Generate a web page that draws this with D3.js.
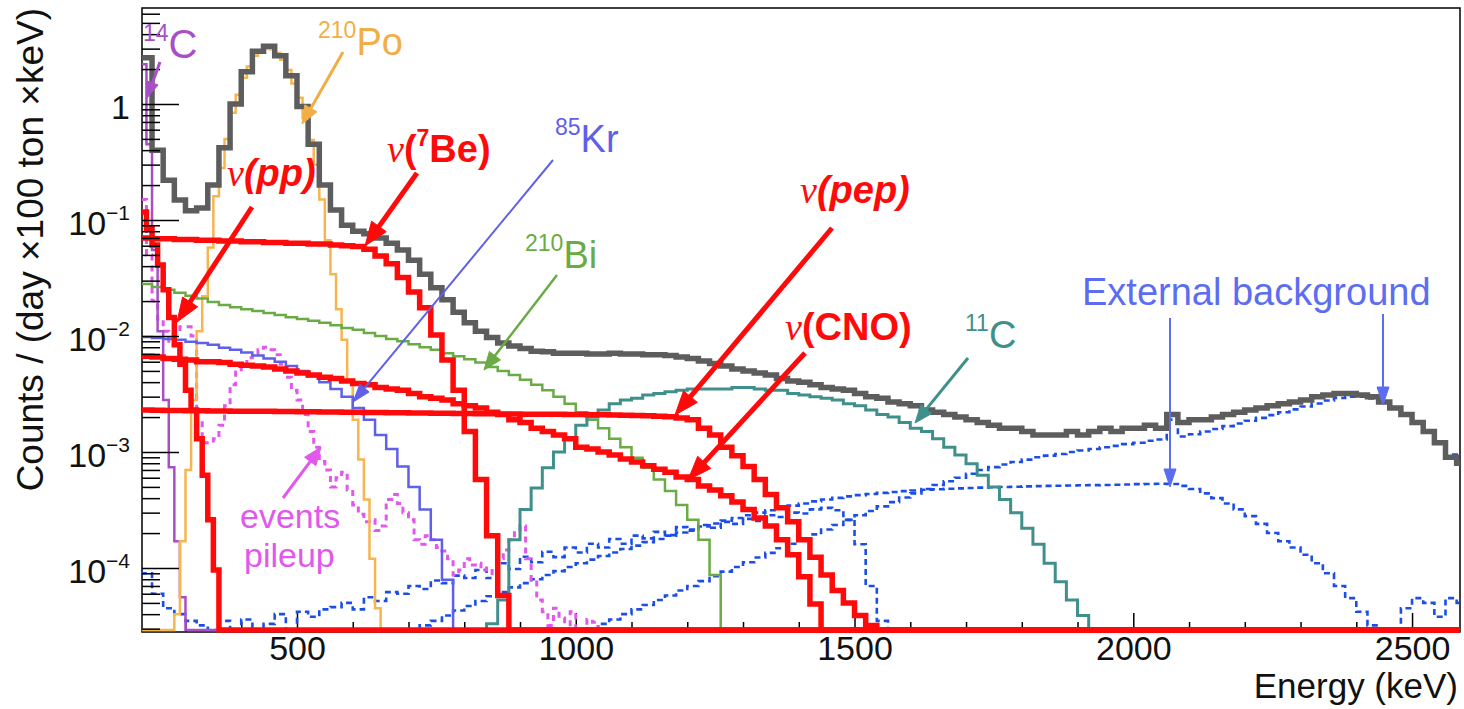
<!DOCTYPE html>
<html><head><meta charset="utf-8">
<script src="https://cdn.jsdelivr.net/npm/d3@7/dist/d3.min.js"></script>
<style>
html,body{margin:0;padding:0;background:#fff;}
svg{display:block;}
text{font-family:"Liberation Sans",Arial,Helvetica,sans-serif;}
</style></head><body>
<svg id="chart" width="1464" height="709"></svg>
<script>
// ---------------- DATA (counts / (day x 100 ton x keV)) ----------------
const totalStart = 220, totalWidth = 20;
const totalCounts = [
2.5, 0.40, 0.22, 0.149, 0.12, 0.127, 0.2, 0.42, 1.0, 1.9,
2.85, 3.15, 2.6, 1.75, 0.95, 0.45, 0.2, 0.122, 0.09, 0.08,
0.076, 0.07, 0.063, 0.055, 0.045, 0.034, 0.026, 0.0205, 0.016, 0.013,
0.011, 0.0097, 0.0087, 0.0082, 0.0078, 0.0074, 0.0073, 0.0071, 0.0071, 0.0071,
0.007, 0.007, 0.0071, 0.007, 0.007, 0.0069, 0.0069, 0.0068, 0.0066, 0.0064,
0.0061, 0.0058, 0.0055, 0.0052, 0.005, 0.0048, 0.0046, 0.0043, 0.0041, 0.004,
0.0038, 0.0036, 0.0035, 0.0034, 0.0032, 0.003, 0.0029, 0.0027, 0.0026, 0.0025,
0.0023, 0.0022, 0.0021, 0.002, 0.0019, 0.0018, 0.0017, 0.0016, 0.0016, 0.0015,
0.0014, 0.0014, 0.0014, 0.0015, 0.0014, 0.0015, 0.0016, 0.0015, 0.0016, 0.0016,
0.0017, 0.0016, 0.0021, 0.0018, 0.0019, 0.0019, 0.002, 0.0021, 0.0022, 0.0023,
0.0024, 0.0025, 0.0026, 0.0027, 0.0028, 0.003, 0.0031, 0.0032, 0.0032, 0.0031,
0.003, 0.0027, 0.0024, 0.0021, 0.0018, 0.0015, 0.0012, 0.0009, 0.0008];

const c14Start = 220, c14Width = 10;
const c14Counts = [2.2, 0.45, 0.055, 0.011, 0.0028, 7.4e-4, 1.7e-4, 5.6e-5];

const po210Start = 220, po210Width = 10;
const po210Counts = [0, 0, 0, 0, 0, 0, 4e-5, 1.7e-4, 7e-4, 0.0028,
0.011, 0.022, 0.058, 0.16, 0.28, 0.5, 0.84, 1.2, 1.68, 2.1,
2.6, 2.9, 3.0, 2.97, 2.75, 2.4, 1.96, 1.5, 1.13, 0.76,
0.49, 0.3, 0.15, 0.067, 0.034, 0.017, 0.0093, 0.0042, 0.0019, 8.6e-4,
3.9e-4, 1.2e-4, 4.5e-5];

const ppStart = 220, ppWidth = 10;
const ppCounts = [0.117, 0.085, 0.061, 0.041, 0.025, 0.0144, 0.0084, 0.0057, 0.0034, 0.0023,
0.0013, 6.3e-4, 2.6e-4, 9.6e-5];

const be7Start = 220, be7Width = 20;
const be7Counts = [0.070, 0.069, 0.069, 0.068, 0.068, 0.067, 0.067, 0.066, 0.066, 0.065,
0.065, 0.064, 0.064, 0.063, 0.063, 0.062, 0.062, 0.061, 0.06, 0.059,
0.056, 0.049, 0.042, 0.032, 0.024, 0.0175, 0.0102, 0.0062, 0.0034, 0.0015,
5.8e-4, 1.9e-4, 5.8e-5];

const kr85Start = 220, kr85Width = 20;
const kr85Counts = [0.0098, 0.0096, 0.0094, 0.0093, 0.0089, 0.0087, 0.0084, 0.0079, 0.0076, 0.0072,
0.0068, 0.0064, 0.006, 0.0055, 0.005, 0.0045, 0.004, 0.0035, 0.003, 0.0024,
0.0019, 0.0014, 0.00106, 7.5e-4, 5e-4, 3.2e-4, 1.75e-4, 7.9e-5];

const bi210Start = 220, bi210Width = 20;
const bi210Counts = [0.028, 0.0264, 0.025, 0.0236, 0.0222, 0.021, 0.0196, 0.0185, 0.0177, 0.017,
0.0164, 0.0158, 0.0152, 0.0145, 0.014, 0.0135, 0.013, 0.0124, 0.0117, 0.0113,
0.0106, 0.01, 0.0094, 0.009, 0.0085, 0.008, 0.0076, 0.0071, 0.0067, 0.0063,
0.0059, 0.0054, 0.005, 0.0046, 0.0042, 0.0038, 0.0034, 0.003, 0.0026, 0.0022,
0.0019, 0.0016, 0.0013, 0.0011, 8.9e-4, 7.3e-4, 5.8e-4, 4.6e-4, 3.5e-4, 2.6e-4,
1.75e-4, 8.7e-5];

const cnoStart = 220, cnoWidth = 20;
const cnoCounts = [0.0067, 0.0066, 0.0064, 0.0063, 0.0062, 0.006, 0.006, 0.0059, 0.0057, 0.0056,
0.0055, 0.0054, 0.0052, 0.005, 0.0048, 0.0046, 0.0044, 0.0043, 0.0041, 0.0039,
0.0038, 0.0036, 0.0035, 0.0034, 0.0032, 0.003, 0.0029, 0.0028, 0.0026, 0.0025,
0.0024, 0.0022, 0.0021, 0.0019, 0.0018, 0.0016, 0.0015, 0.0014, 0.0013, 0.0011,
0.00106, 0.001, 9.4e-4, 8.7e-4, 8.2e-4, 7.6e-4, 7.1e-4, 6.7e-4, 6.1e-4, 5.8e-4,
5.1e-4, 4.7e-4, 4.2e-4, 3.7e-4, 3.2e-4, 2.7e-4, 2.3e-4, 1.75e-4, 1.3e-4, 8.4e-5,
4.9e-5];

const pepStart = 220, pepWidth = 20;
const pepCounts = [0.00230, 0.00229, 0.00228, 0.00228, 0.00227, 0.00227, 0.00226, 0.00226, 0.00225, 0.00225,
0.00224, 0.00224, 0.00223, 0.00223, 0.00222, 0.00222, 0.00221, 0.00221, 0.00220, 0.00220,
0.00219, 0.00219, 0.00218, 0.00218, 0.00217, 0.00217, 0.00216, 0.00216, 0.00215, 0.00215,
0.00214, 0.00214, 0.00213, 0.00213, 0.00212, 0.00212, 0.00211, 0.00211, 0.00210, 0.00210,
0.00209, 0.00209, 0.00208, 0.00207, 0.00206, 0.00205, 0.00203, 0.00201, 0.00196, 0.0019,
0.0016, 0.0014, 0.0011, 9.3e-4, 7.5e-4, 5.8e-4, 4.3e-4, 3.3e-4, 2.5e-4, 1.75e-4,
1.24e-4, 8.7e-5, 6.4e-5, 5e-5, 3.9e-5, 3.2e-5];

const c11Start = 840, c11Width = 20;
const c11Counts = [3.3e-5, 5.3e-5, 1.75e-4, 3.2e-4, 4.9e-4, 7.3e-4, 0.001, 0.0013, 0.0017, 0.002,
0.0023, 0.0026, 0.0028, 0.0029, 0.0031, 0.0032, 0.0033, 0.0034, 0.0035, 0.0035,
0.0035, 0.0035, 0.0036, 0.0036, 0.0035, 0.0034, 0.0034, 0.0032, 0.0031, 0.003,
0.0029, 0.0028, 0.0026, 0.0025, 0.0023, 0.0021, 0.002, 0.0018, 0.0016, 0.0015,
0.0013, 0.0011, 9.4e-4, 7.9e-4, 6.3e-4, 5e-4, 3.9e-4, 3e-4, 2.2e-4, 1.6e-4,
1.1e-4, 7.6e-5, 5.3e-5, 3.9e-5, 3e-5];

const pileupStart = 220, pileupWidth = 10;
const pileupCounts = [0.15, 0.05, 0.02, 0.014, 0.011, 0.0084, 0.011, 0.012, 0.012, 0.01,
0.0019, 0.0012, 0.0012, 0.0013, 0.0017, 0.0025, 0.0038, 0.0049, 0.0057, 0.0065,
0.007, 0.0076, 0.008, 0.0076, 0.0069, 0.0057, 0.0044, 0.0034, 0.0028, 0.0021,
0.0015, 0.0011, 8.3e-4, 7e-4, 5e-4, 6e-4, 6.7e-4, 4.7e-4, 3.5e-4, 2.9e-4,
2.5e-4, 2.6e-4, 2.1e-4, 2.3e-4, 3.9e-4, 4.3e-4, 3.6e-4, 3e-4, 2.6e-4, 1.75e-4,
1.6e-4, 1.9e-4, 1.75e-4, 1.5e-4, 1.4e-4, 1.2e-4, 8.7e-5, 9.6e-5, 1.2e-4, 1.06e-4,
1.1e-4, 9.6e-5, 1e-4, 8.7e-5, 1.2e-4, 1.43e-4, 1.75e-4, 2.1e-4, 2.3e-4, 1.2e-4,
7.9e-5, 5.3e-5, 4.2e-5, 3.2e-5, 4.5e-5, 3.7e-5, 0, 4.2e-5, 0, 0,
3.6e-5, 3.4e-5, 2.9e-5, 0, 0, 0, 0, 0, 0, 0, 3e-5];

// external background components
const extK40Start = 220, extK40Width = 20;
const extK40Counts = [9e-5, 6e-5, 4.5e-5, 4e-5, 3.5e-5, 3.2e-5, 0, 3.5e-5, 0, 3.6e-5,
0, 3.3e-5, 4e-5, 0, 4.2e-5, 3.8e-5, 4.4e-5, 4.6e-5, 5e-5, 4.4e-5,
5.6e-5, 5.2e-5, 6.2e-5, 6e-5, 7e-5, 6.6e-5, 7.8e-5, 7.4e-5, 8.6e-5, 8.2e-5,
9.6e-5, 8.2e-5, 1.1e-4, 9.8e-5, 1.25e-4, 1.12e-4, 1.38e-4, 1.24e-4, 1.5e-4, 1.36e-4,
1.62e-4, 1.5e-4, 1.78e-4, 1.62e-4, 1.9e-4, 1.8e-4, 2.05e-4, 1.92e-4, 2.25e-4, 2.1e-4,
2.35e-4, 2.22e-4, 2.5e-4, 2.4e-4, 2.65e-4, 2.55e-4, 2.85e-4, 2.75e-4, 3e-4, 2.95e-4,
3.2e-4, 3.3e-4, 3.15e-4, 2.6e-4, 1.6e-4, 7e-5, 3.5e-5];

const extBi214Start = 720, extBi214Width = 20;
const extBi214Counts = [3.2e-5, 3.5e-5, 3.9e-5, 4.3e-5, 4.7e-5, 5.2e-5, 5.7e-5, 6.2e-5, 6.8e-5, 7.4e-5,
8e-5, 8.7e-5, 9.4e-5, 1.02e-4, 1.1e-4, 1.18e-4, 1.27e-4, 1.36e-4, 1.46e-4, 1.56e-4,
1.67e-4, 1.78e-4, 1.9e-4, 2.02e-4, 2.15e-4, 2.28e-4, 2.42e-4, 2.56e-4, 2.7e-4, 2.85e-4,
3e-4, 3.15e-4, 3.3e-4, 3.45e-4, 3.6e-4, 3.75e-4, 3.9e-4, 4.02e-4, 4.14e-4, 4.25e-4,
4.35e-4, 4.44e-4, 4.52e-4, 4.6e-4, 4.66e-4, 4.72e-4, 4.77e-4, 4.82e-4, 4.86e-4, 4.9e-4,
4.93e-4, 4.96e-4, 4.99e-4, 5.02e-4, 5.05e-4, 5.08e-4, 5.1e-4, 5.12e-4, 5.14e-4, 5.16e-4,
5.18e-4, 5.2e-4, 5.22e-4, 5.25e-4, 5.28e-4, 5.3e-4, 5.32e-4,
5.3e-4, 5.1e-4, 4.8e-4, 4.4e-4, 4e-4, 3.6e-4, 3.2e-4, 2.8e-4, 2.4e-4, 2e-4,
1.7e-4, 1.5e-4, 1.3e-4, 1.1e-4, 9e-5, 7e-5, 5.5e-5, 4.2e-5, 3.2e-5, 0,
0, 4.5e-5, 5.5e-5, 5e-5, 3.8e-5, 5.5e-5, 5e-5];

const extTl208Start = 1020, extTl208Width = 20;
const extTl208Counts = [3e-5, 3.3e-5, 3.6e-5, 4e-5, 4.4e-5, 4.8e-5, 5.3e-5, 5.8e-5, 6.4e-5, 7e-5,
7.7e-5, 8.5e-5, 9.3e-5, 1.02e-4, 1.12e-4, 1.23e-4, 1.35e-4, 1.48e-4, 1.62e-4, 1.78e-4,
1.95e-4, 2.15e-4, 2.35e-4, 2.6e-4, 2.85e-4, 3.1e-4, 3.4e-4, 3.7e-4, 4.05e-4, 4.4e-4,
4.8e-4, 5.2e-4, 5.6e-4, 6e-4, 6.5e-4, 7e-4, 7.4e-4, 7.8e-4, 8.2e-4, 8.6e-4,
9e-4, 9.3e-4, 9.6e-4, 1e-3, 1.03e-3, 1.06e-3, 1.1e-3, 1.13e-3, 1.17e-3, 1.2e-3,
1.25e-3, 1.28e-3, 1.9e-3, 1.36e-3, 1.42e-3, 1.5e-3, 1.58e-3, 1.67e-3, 1.76e-3, 1.86e-3,
1.97e-3, 2.08e-3, 2.2e-3, 2.33e-3, 2.47e-3, 2.62e-3, 2.78e-3, 2.92e-3, 3e-3, 3e-3,
2.9e-3, 2.7e-3, 2.4e-3, 2.1e-3, 1.8e-3, 1.5e-3, 1.2e-3, 9.5e-4, 7.8e-4];

// axis tick labels
const xMajorTicks = [500, 1000, 1500, 2000, 2500];
const yMajorTicks = [1, 1e-1, 1e-2, 1e-3, 1e-4];
const yMajorLabels = [{base: "1", exp: ""}, {base: "10", exp: "\u22121"}, {base: "10", exp: "\u22122"},
                      {base: "10", exp: "\u22123"}, {base: "10", exp: "\u22124"}];
const xTitle = "Energy (keV)";
const yTitle = "Counts / (day \u00d7100 ton \u00d7keV)";

// ---------------- DRAWING ----------------
const svg = d3.select('#chart');
const plot = {left: 142, top: 8, right: 1460, bottom: 632};
const x = d3.scaleLinear().domain([222, 2586]).range([plot.left, plot.right]);
const y = d3.scaleLog().domain([2.807e-5, 6.72]).range([plot.bottom, plot.top]);
const FLOOR_Y = plot.bottom - 2;
const yOf = v => (v > y.domain()[0] ? y(v) : FLOOR_Y);

const RED = '#ff0a0a';
const EXT = '#1c4ee6';
const series = [
  {values: extK40Counts, start: extK40Start, width: extK40Width, color: EXT, lw: 2.6, dash: '6,4'},
  {values: extBi214Counts, start: extBi214Start, width: extBi214Width, color: EXT, lw: 2.6, dash: '6,4'},
  {values: extTl208Counts, start: extTl208Start, width: extTl208Width, color: EXT, lw: 2.6, dash: '6,4'},
  {values: pileupCounts, start: pileupStart, width: pileupWidth, color: '#e158ec', lw: 3, dash: '6,5'},
  {values: c14Counts, start: c14Start, width: c14Width, color: '#a84fc8', lw: 2.5},
  {values: po210Counts, start: po210Start, width: po210Width, color: '#f6b54f', lw: 2.5},
  {values: kr85Counts, start: kr85Start, width: kr85Width, color: '#5f5fe8', lw: 2.5},
  {values: bi210Counts, start: bi210Start, width: bi210Width, color: '#6aab45', lw: 2.5},
  {values: c11Counts, start: c11Start, width: c11Width, color: '#3f8f8a', lw: 3},
  {values: totalCounts, start: totalStart, width: totalWidth, color: '#5d5d5d', lw: 5.5},
  {values: cnoCounts, start: cnoStart, width: cnoWidth, color: RED, lw: 5.5},
  {values: pepCounts, start: pepStart, width: pepWidth, color: RED, lw: 5.5},
  {values: be7Counts, start: be7Start, width: be7Width, color: RED, lw: 5.5},
  {values: ppCounts, start: ppStart, width: ppWidth, color: RED, lw: 5.5}
];

svg.append('defs').append('clipPath').attr('id', 'clip')
  .append('rect').attr('x', plot.left).attr('y', plot.top)
  .attr('width', plot.right - plot.left).attr('height', plot.bottom - plot.top + 4);

// frame
svg.append('rect').attr('x', plot.left).attr('y', plot.top)
  .attr('width', plot.right - plot.left).attr('height', plot.bottom - plot.top)
  .attr('fill', 'none').attr('stroke', '#000').attr('stroke-width', 1.5);

// x axis ticks (inside) + labels
const gx = svg.append('g').attr('transform', `translate(0,${plot.bottom})`);
gx.call(d3.axisBottom(x).tickValues(xMajorTicks).tickSizeInner(-19).tickSizeOuter(0).tickPadding(4).tickFormat(d3.format('d')));
const xMinor = d3.range(300, 2600, 100).filter(v => v % 500 !== 0);
const gxm = svg.append('g').attr('transform', `translate(0,${plot.bottom})`);
gxm.call(d3.axisBottom(x).tickValues(xMinor).tickSizeInner(-10).tickSizeOuter(0).tickFormat(''));
[gx, gxm].forEach(g => {
  g.select('.domain').remove();
  g.selectAll('line').attr('stroke', '#000').attr('stroke-width', 1.5);
});
gx.selectAll('text').attr('font-size', 34).attr('fill', '#111')
  .attr('font-family', '"Liberation Sans",Arial,sans-serif');

// histograms
const stepLine = d3.line().x(d => x(d.e)).y(d => yOf(d.v)).curve(d3.curveStepAfter);
function histPoints(h) {
  const pts = [];
  if (h.start > x.domain()[0]) pts.push({e: h.start, v: 0});
  h.values.forEach((v, i) => pts.push({e: h.start + i * h.width, v: v}));
  pts.push({e: h.start + h.values.length * h.width, v: 0});
  pts.push({e: 2600, v: 0});
  return pts;
}
const gh = svg.append('g').attr('clip-path', 'url(#clip)');
series.forEach(h => {
  gh.append('path').attr('d', stepLine(histPoints(h)))
    .attr('fill', 'none').attr('stroke', h.color).attr('stroke-width', h.lw)
    .attr('stroke-dasharray', h.dash || null).attr('stroke-linejoin', 'miter');
});

// y axis ticks (inside)
const gy = svg.append('g').attr('transform', `translate(${plot.left},0)`);
gy.call(d3.axisLeft(y).tickValues(yMajorTicks).tickSizeInner(-37).tickSizeOuter(0).tickFormat(''));
const yMinor = [];
[-5, -4, -3, -2, -1, 0].forEach(p => [2, 3, 4, 5, 6, 7, 8, 9].forEach(m => {
  const v = m * Math.pow(10, p);
  if (v > y.domain()[0] && v < y.domain()[1]) yMinor.push(v);
}));
const gym = svg.append('g').attr('transform', `translate(${plot.left},0)`);
gym.call(d3.axisLeft(y).tickValues(yMinor).tickSizeInner(-18).tickSizeOuter(0).tickFormat(''));
[gy, gym].forEach(g => {
  g.select('.domain').remove();
  g.selectAll('line').attr('stroke', '#000').attr('stroke-width', 1.5);
});
// y labels with superscripts
yMajorTicks.forEach((v, i) => {
  const lab = yMajorLabels[i];
  const t = svg.append('text').attr('x', 130).attr('y', y(v) + 15)
    .attr('text-anchor', 'end').attr('font-size', 34).attr('fill', '#111');
  t.append('tspan').text(lab.base);
  if (lab.exp) t.append('tspan').attr('font-size', 21).attr('dy', -15).text(lab.exp);
});

// axis titles
svg.append('text').attr('x', 1458).attr('y', 698).attr('text-anchor', 'end')
  .attr('font-size', 35).attr('fill', '#111').text(xTitle);
svg.append('text').attr('transform', 'translate(43,8) rotate(-90)').attr('text-anchor', 'end')
  .attr('font-size', 37).attr('fill', '#111').text(yTitle);

// ---------------- annotations ----------------
function arrow(x1, y1, x2, y2, color, lw, hl, hw) {
  const dx = x2 - x1, dy = y2 - y1, L = Math.hypot(dx, dy);
  const ux = dx / L, uy = dy / L;
  const bx = x2 - ux * hl, by = y2 - uy * hl;
  svg.append('line').attr('x1', x1).attr('y1', y1).attr('x2', bx + ux * 2).attr('y2', by + uy * 2)
    .attr('stroke', color).attr('stroke-width', lw);
  svg.append('polygon')
    .attr('points', `${x2},${y2} ${bx - uy * hw},${by + ux * hw} ${bx + uy * hw},${by - ux * hw}`)
    .attr('fill', color).attr('stroke', color).attr('stroke-width', 1);
}
function supLabel(xp, yp, sup, main, color, size) {
  const t = svg.append('text').attr('x', xp).attr('y', yp).attr('font-size', size).attr('fill', color);
  t.append('tspan').attr('font-size', 23).attr('dy', -17).text(sup);
  t.append('tspan').attr('dy', 17).text(main);
  return t;
}
const nuFont = '"Liberation Serif","DejaVu Serif",serif';

// 14C
supLabel(143, 58, '14', 'C', '#a84fc8', 40);
arrow(160, 62, 147, 98, '#a84fc8', 3, 16, 6);
// 210Po
supLabel(318, 55, '210', 'Po', '#f2ae45', 38);
arrow(343, 52, 302, 124, '#f2ae45', 3, 18, 7);
// nu(pp)
{
  const t = svg.append('text').attr('x', 227).attr('y', 186).attr('font-size', 38).attr('fill', RED);
  t.append('tspan').attr('font-family', nuFont).attr('font-style', 'italic').text('\u03bd');
  t.append('tspan').attr('font-weight', 'bold').attr('font-style', 'italic').text('(pp)');
}
arrow(252, 207, 177, 322, RED, 5, 24, 9);
// nu(7Be)
{
  const t = svg.append('text').attr('x', 387).attr('y', 162).attr('font-size', 38).attr('fill', RED).attr('font-weight', 'bold');
  t.append('tspan').attr('font-family', nuFont).attr('font-style', 'italic').attr('font-weight', 'normal').text('\u03bd');
  t.append('tspan').text('(');
  t.append('tspan').attr('font-size', 23).attr('dy', -16).text('7');
  t.append('tspan').attr('dy', 16).text('Be)');
}
arrow(417, 173, 365, 246, RED, 5, 24, 9);
// 85Kr
supLabel(555, 152, '85', 'Kr', '#5f5fe8', 38);
arrow(553, 160, 353, 402, '#5f5fe8', 2, 18, 6);
// 210Bi
supLabel(525, 268, '210', 'Bi', '#6aab45', 38);
arrow(557, 275, 484, 370, '#6aab45', 2.5, 18, 7);
// nu(pep)
{
  const t = svg.append('text').attr('x', 800).attr('y', 203).attr('font-size', 38).attr('fill', RED);
  t.append('tspan').attr('font-family', nuFont).attr('font-style', 'italic').text('\u03bd');
  t.append('tspan').attr('font-weight', 'bold').attr('font-style', 'italic').text('(pep)');
}
arrow(832, 228, 675, 415, RED, 5, 24, 9);
// nu(CNO)
{
  const t = svg.append('text').attr('x', 785).attr('y', 340).attr('font-size', 38).attr('fill', RED);
  t.append('tspan').attr('font-family', nuFont).attr('font-style', 'italic').text('\u03bd');
  t.append('tspan').attr('font-weight', 'bold').text('(CNO)');
}
arrow(805, 353, 688, 480, RED, 5, 24, 9);
// 11C
supLabel(965, 348, '11', 'C', '#3f8f8a', 38);
arrow(968, 358, 915, 423, '#3f8f8a', 3, 18, 7);
// External background
svg.append('text').attr('x', 1082).attr('y', 305).attr('font-size', 38).attr('fill', '#5d6df2').text('External background');
arrow(1170, 318, 1170, 487, '#5d6df2', 2, 18, 6);
arrow(1383, 314, 1383, 405, '#5d6df2', 2, 18, 6);
// pileup
svg.append('text').attr('x', 240).attr('y', 528).attr('font-size', 34).attr('fill', '#e158ec').text('events');
svg.append('text').attr('x', 244).attr('y', 567).attr('font-size', 34).attr('fill', '#e158ec').text('pileup');
arrow(283, 498, 321, 447, '#e158ec', 3, 18, 7);
</script>
</body></html>
